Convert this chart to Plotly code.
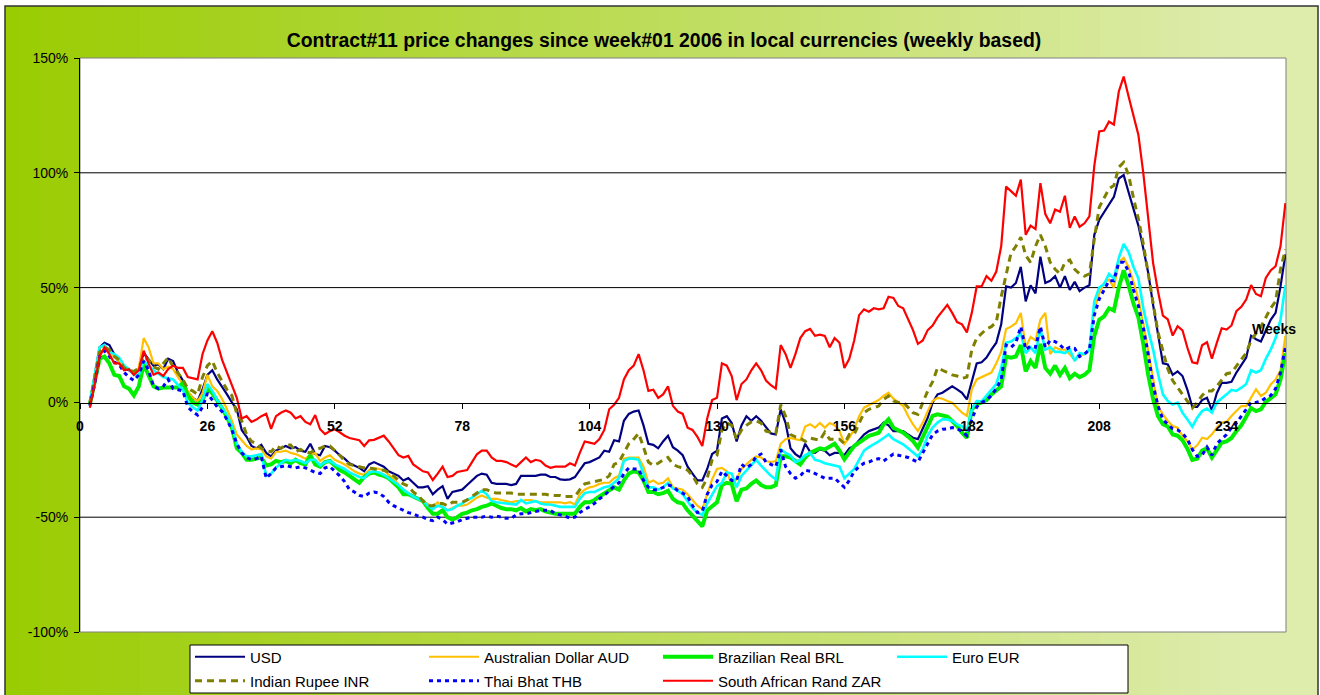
import plotly.graph_objects as go

# ---------------- data (weekly, % change since week#01 2006) ----------------
WEEKS = list(range(2, 247))
X_TICKS = [0, 26, 52, 78, 104, 130, 156, 182, 208, 234]
Y_TICKS = [-100, -50, 0, 50, 100, 150]
Y_TICK_TEXT = ["-100%", "-50%", "0%", "50%", "100%", "150%"]
GRID_LEVELS = [100, 50, -50]

USD = [-0.5, 12, 24, 26, 25, 21, 17, 15, 14, 12.5, 14.5, 21.5, 19, 16, 16.5, 14.5, 19, 18, 13, 9.5, 4.5, 2, 0.6, 5.6, 12, 14, 10, 7, 3.5, 0, -3, -12, -15, -19, -20, -18.5, -22, -23.5, -21, -20, -19, -20,
       -19.5, -21, -21.5, -18, -22.5, -23, -19, -19.5, -21, -23, -24.5, -26.5, -27.5, -28.5, -30, -27, -26, -27, -28, -30, -31, -32, -34, -33, -35, -37, -37, -36.5, -40, -38, -36.5, -42, -39, -38.5, -38, -36, -34, -32, -31, -31.5,
       -35, -35.5, -35.5, -35.5, -36, -35.5, -32, -32, -32, -32, -31.5, -31.5, -32.5, -32.5, -33.5, -33.7, -33.5, -32.5, -29.5, -26.5, -26, -25, -24, -21, -21.5, -16.5, -17, -8, -5, -4, -3.5, -10, -18, -18.5, -20, -17, -14.5, -19.5, -21, -23, -28, -31, -34,
       -34, -29, -22.5, -21, -7, -6, -9, -17, -10, -6, -8, -6, -8, -11, -13.5, -14, -3, -9, -20, -22.5, -24, -18, -21.5, -22, -20.5, -21, -23, -22, -22, -23, -20, -19, -16.5, -14, -12.5, -11.7, -11, -8.8, -10, -12.5, -12.5,
       -12.5, -14, -15.4, -16, -11.7, -6.7, -0.1, 3.5, 4.2, 5.7, 7, 5.7, 4.2, 1.3, 8.6, 17, 17.5, 19.5, 23, 26, 34, 50.5, 50, 52, 59, 44, 51, 47.5, 63.5, 52, 53, 55, 50, 55, 49, 52.5, 48.5, 50, 51,
       73, 79.5, 83, 86.5, 89.5, 97.5, 99, 91.5, 84.5, 77, 67, 56.5, 42.5, 29, 17, 16.5, 12, 13.5, 11.5, 5.5, -2, -2, 1, 2, -3.5, 4, 8.5, 8.5, 9, 13, 16, 19.5, 29, 27.5, 26.5, 31.5, 36, 39, 50.5, 64.5]

AUD = [-0.5, 11, 24, 24.5, 22.5, 20, 17.5, 15, 14.5, 13, 15, 28, 24, 17, 17, 14.5, 15.5, 14.5, 11, 8, 5, 2, 0.5, 4, 12, 7, 5, 1.5, -3, -8, -14, -16.5, -19, -20.5, -20, -20.5, -23.5, -24.5, -21.5, -21.5, -21, -22,
       -22.5, -23.5, -24.5, -23, -22, -25.5, -24, -23, -25, -26, -27, -28.5, -30, -31, -31.5, -29.5, -28.5, -29, -29.5, -31.5, -33.5, -35.5, -38, -39.5, -40.5, -41.7, -43, -44, -45.5, -43.5, -45.5, -47, -46, -45, -45, -44.5, -43, -41.5, -40.5, -41.5,
       -42, -42, -42.5, -43, -43.5, -43, -43, -42.5, -42.5, -43, -43.5, -43.5, -43.5, -43.5, -43.5, -44, -43.5, -44.5, -40, -38, -37, -36.5, -35.5, -35, -35, -33, -32, -24.5, -24, -24, -24, -28, -35, -34, -35.5, -35, -33, -37, -37.5, -38, -40, -42.5, -45,
       -46.5, -40, -33.5, -29, -28.5, -30, -36, -33.5, -29, -27, -25, -23.5, -24, -25.5, -26, -25.5, -18, -16, -15.5, -16, -16.5, -10.5, -9.5, -11, -9, -11, -9, -10, -12.5, -18, -15.4, -11.7, -6, -2.3, -1.3, -0.1, 1, 2.8, 4.2, 1.6, 0.1,
       -1.6, -5.9, -9.6, -12.5, -8.8, -3.8, 0.6, 2, 1.6, 0.6, -0.1, -2.3, -4.5, -5.9, 5.7, 10, 11, 12, 13, 17, 22, 32, 33, 34.5, 39, 24, 28.5, 27, 36, 39, 21, 24, 23, 23, 21, 18.5, 20.5, 21, 23,
       40.5, 47.5, 52, 53.5, 50, 61, 63, 59, 52.5, 45, 34.5, 22.5, 12, -1.6, -5.2, -8.1, -10.3, -11, -14.6, -16.8, -20.4, -18.7, -15.4, -16, -13.9, -11, -8.8, -8.4, -5.9, -3.8, -1.6, -1.6, 2, 5.7, 2.8, 4.2, 7.8, 10, 14, 29]

BRL = [-1, 9, 19, 20, 17, 12, 11.5, 7, 6, 3, 7, 16.5, 11.5, 7, 6, 6.5, 6.5, 6.5, 6.5, 8.5, 3, 0, -1, 1, 6, 4, 1, -2.5, -6.5, -11, -20, -22, -25, -25, -24.5, -24, -27.5, -27, -25.5, -26, -25.5, -26.5,
       -25, -26.5, -27, -23, -27, -28, -26, -25.5, -27.5, -29.5, -30.5, -32, -33.5, -35, -32.5, -31, -30.5, -31.5, -32, -33, -35, -37, -40, -40, -41, -42, -43, -46, -48.5, -48.5, -47, -50, -51, -50, -48.5, -48, -47, -46.5, -45.5, -45,
       -44, -45, -46, -46.5, -46.5, -47, -46, -47.5, -46.5, -47, -46.5, -47.5, -48, -48.5, -48.5, -48.5, -48.5, -48.5, -45.5, -43.5, -43.5, -42.5, -41, -39.5, -38.5, -37, -38, -34, -31, -30, -30.5, -34, -39, -39, -40, -39.5, -38.5, -42, -43.5, -44, -47, -49.5, -52,
       -54, -47, -45, -43.5, -36, -35, -35.5, -43, -38, -37.5, -35.5, -34, -36, -37, -37, -36, -23.5, -23.5, -24, -25.5, -27, -24, -22, -21, -20, -20.5, -19, -18, -21, -24.8, -21.9, -19, -17.5, -16, -14.6, -13.9, -13.2, -9.6, -7.4, -11, -12.2,
       -13.2, -14.9, -16.8, -19.7, -15.4, -10.3, -5.9, -5.2, -5.6, -6.2, -8.1, -10.3, -13.2, -15.4, -3, -0.9, 0, 1, 3.5, 5.5, 7, 20, 19.5, 20, 25, 13.5, 18, 15, 25.5, 15, 12.5, 16, 12, 15, 10.5, 12.5, 11, 12, 14,
       29, 36, 37.5, 41, 40, 50, 57.5, 51, 43, 37, 25.5, 12, 1.5, -6, -9.5, -10.5, -14, -14.5, -16.5, -20.2, -25, -24.5, -21, -20, -24, -20.5, -17.5, -17, -15.5, -12.5, -10, -6.3, -2.5, -3.8, -3, 0.2, 1.6, 3.5, 10, 21.5]

EUR = [-0.5, 11, 24, 25, 22, 21, 19.5, 16, 14.5, 12, 12, 18, 16, 14, 12.5, 11, 10.5, 10, 7.5, 5.5, 0, -2, -3.5, 1, 8, 5, 1, -2, -5.5, -10, -18, -21.5, -23.5, -23.5, -23, -22.5, -32, -31, -28.5, -26.5, -25, -25.5,
       -25, -25.5, -26.5, -25, -25, -27.5, -26, -25.5, -27, -28, -29, -30.5, -31.5, -32.5, -33, -30.5, -30, -30.5, -31.5, -33, -34.5, -36, -38, -39.5, -41, -42, -43, -45, -46.5, -45, -45.5, -47, -46.5, -45, -44, -42.5, -41.5, -40, -38.5, -40,
       -43, -43.5, -43.7, -44, -44, -44.5, -42.5, -44, -43.5, -43, -44, -44.5, -44.5, -45, -45.5, -45.5, -45.5, -45.5, -42, -39.5, -39, -39, -38, -37, -36.5, -35, -33, -25.5, -24.5, -24.5, -25, -31, -37, -37, -38, -37, -35, -37.5, -38.5, -40, -43, -46, -48,
       -49, -44, -40, -36.5, -35, -30.5, -31, -37, -32, -29.5, -27, -25, -27.5, -30, -32, -33.5, -20.5, -22, -23, -26, -25, -23, -22, -25, -25.5, -26.5, -27, -27.5, -28, -33, -31, -29, -25, -21, -19.5, -18.3, -17, -15.5, -14, -16, -17,
       -18.3, -20, -22, -23.6, -20.4, -14.6, -11, -8.8, -7.4, -7.4, -8.1, -9.6, -10.3, -12.5, -3, 0.6, 0.5, 3, 5.5, 8, 15, 26, 26.5, 28, 30, 21.5, 24, 21.5, 32, 23, 24, 22, 22, 21.5, 23, 18, 21.5, 21, 23,
       44, 50, 51.5, 56, 54, 63, 69, 65.5, 59, 54, 41, 31.5, 23, 12.5, 3.5, 0.6, -0.9, -0.1, -4.5, -7.4, -10.6, -6.7, -3.8, -2.7, -4.5, 0, 1.6, 3.5, 5.4, 5, 6.4, 8, 14, 13, 14, 19, 23, 28, 36, 51]

INR = [-0.5, 11, 22, 24, 23, 20, 18.5, 15, 14, 13.5, 15, 20, 18.5, 15.5, 14.5, 17, 19.5, 15.5, 13, 10, 6, 5, 3.5, 11, 16, 18, 13, 9, 5.5, 3, -5, -8, -14, -17, -18, -20, -21, -21.5, -19, -20, -18.5, -18.5,
       -21.5, -20.5, -21.5, -22, -20.5, -20, -19, -19, -21, -23, -25.5, -27, -27.5, -28, -28.5, -28.5, -29, -29.5, -29.5, -30.5, -32, -34, -35.5, -36.5, -39, -40.5, -43, -45, -45, -44, -44, -45, -43.5, -43.5, -43.5, -42.5, -41, -39.5, -38, -38,
       -39, -39.5, -39.5, -39.5, -39.5, -40, -40, -40, -40, -40, -40, -40, -40.5, -40.5, -40.5, -41, -41, -41, -38, -35.5, -35, -34.5, -34, -33.5, -32, -27, -26, -22, -18, -16, -13.5, -19.5, -26, -27.5, -26.5, -25, -24, -27, -28, -28.5, -29.5, -32, -35.5,
       -37, -33, -25, -23, -12, -9, -10, -16, -12, -10, -8.5, -8, -9, -12.5, -13, -13.5, -1, -6, -14, -15, -15.5, -17, -15.5, -16, -16.5, -13, -16, -16, -16, -18, -14, -13.9, -8.8, -4.5, -3, -2.3, -1.6, 1.3, 2.8, 0.6, 0,
       0.2, -2.3, -4.5, -5.2, -0.1, 5, 9, 15, 14, 13, 12, 11.5, 10.5, 11, 23, 28, 30, 32, 33, 35, 46, 56, 65, 68, 72, 64, 61, 68, 73, 68, 61, 58, 56, 61, 62, 58, 56, 55, 56,
       71, 85, 89, 93, 94.5, 102.5, 104.5, 99, 89, 80, 69, 56, 43, 30.5, 22.5, 14.5, 9.5, 6.5, 3.5, 0, -2.5, 0, 3, 5, 5, 7, 9.5, 12.5, 13, 16, 19, 21.5, 27, 30, 33, 37, 41, 44, 58, 66.5]

THB = [-1.5, 8, 20, 22.5, 20, 17.5, 16.5, 13, 11, 9.5, 12, 18, 14, 7, 6, 7, 10, 6, 5.5, 5, -2, -4, -5.5, -2, 4, 1, -2, -4, -7.5, -12, -18, -22, -24, -25, -24.5, -23.5, -33, -31, -28.5, -28, -27.5, -28,
       -28.5, -28, -28.5, -29.5, -30.5, -31, -28.5, -28, -30, -32, -34.5, -38, -39, -40.5, -41, -39.5, -39, -39.5, -41, -43.5, -45, -46, -47, -48, -48.5, -49.5, -50, -51, -51.5, -50, -51, -53, -52.5, -52, -51, -50.5, -50, -50, -50, -49.5,
       -50, -49.5, -50, -50.5, -50.5, -49, -48.5, -48.5, -48, -47.5, -47, -47, -47, -48.5, -49, -49.5, -50.5, -50, -48, -46.5, -45.5, -44, -42, -40.5, -38.5, -36.5, -35, -31, -28.5, -29, -29, -34, -37, -38, -38, -37, -36, -36.5, -38.5, -39.5, -41, -45, -48,
       -47.5, -40, -36, -34.5, -30, -32, -34, -34, -27, -28.5, -27, -23.5, -22.5, -26, -27, -28, -20.5, -28, -31, -33, -32, -29.5, -30, -31, -32, -33, -33, -33, -35, -37, -34, -30, -28, -26.5, -26, -25, -24.5, -25.5, -24, -22.5, -23,
       -23.5, -24, -25, -26, -22, -18, -14, -12.5, -11.7, -11.5, -11, -11.5, -12.5, -14.5, -7.5, -2, 0, 1, 3, 6, 10, 25, 24, 26, 33, 23, 24.5, 24, 33, 24, 27, 26.5, 25, 23, 24, 23.5, 20, 21, 23,
       38, 45, 49, 53, 53, 61, 61, 57, 49, 42, 32.5, 21, 7.5, -1.5, -7.5, -9.5, -11.5, -12, -13.5, -16, -20.5, -23.5, -23, -19.5, -23, -18, -16, -14, -11, -9, -6, -3, 0, 0, 0.5, 2, 3, 6, 13, 24]

ZAR = [-2.3, 8, 20, 24, 21, 17, 17, 14, 14.5, 12, 14, 22.5, 17, 12, 13, 11.5, 14.5, 16, 15, 15, 11, 10.5, 10, 21, 27, 31, 26, 18.5, 13, 7, 2, -7, -6, -8.5, -7.5, -6, -5, -11.5, -6, -4.5, -3.5, -4.5,
       -7, -6, -8.5, -9.5, -5.5, -11.7, -13.8, -12.5, -11.7, -13, -14.5, -15.5, -16, -16.5, -19, -16.5, -16.3, -15.5, -14.5, -17, -20, -23, -24, -23.3, -27, -28.5, -30, -30.5, -33.8, -31, -28, -32.5, -32, -30.3, -30, -29.5, -26, -22.6, -21, -21,
       -24, -25.5, -25.5, -26, -27, -28, -26, -24, -26, -25, -25.5, -27.5, -28.5, -28, -28, -28, -26.5, -27.5, -22, -17, -17.5, -18, -16, -12, -3, -1, 2, 10, 14, 16, 21, 14, 5, 5.5, 2, 3.5, 7, -1.5, -4, -5, -11, -12, -15,
       -19, -7, 1, 2, 17, 16, 11.5, 1, 8, 10, 14, 17, 14, 9.5, 7.5, 6, 25, 21, 15, 21, 28, 31, 32, 29, 29.5, 29, 24, 28, 26, 15, 19, 27, 38, 40.5, 39.5, 41, 40.5, 41, 46, 45.5, 42,
       41, 36, 31.5, 25.5, 27, 31.5, 33.5, 37, 40, 42.5, 39, 35, 34, 30.5, 39, 50.5, 50.5, 55, 53, 57, 68, 94, 92, 90, 97, 73, 77, 75.5, 95.5, 82, 78, 84, 83, 90, 76, 81, 76.5, 78, 81,
       103, 118, 118.4, 122.3, 121, 135.4, 141.9, 133.2, 124.8, 116.5, 99.9, 79.5, 60.7, 48.4, 37.8, 36.1, 29.1, 33.2, 31.4, 23.8, 17.5, 17, 24.9, 26.2, 19, 25.9, 32.3, 31.7, 33.5, 39.7, 41.6, 44.8, 51.1, 47.2, 46.2, 54.2, 57.5, 59.3, 68, 86.8]

# name, values, colour, width, dash, legend column, legend row
SERIES = [
    ("USD", USD, "#000080", 2.2, "solid", 0, 0),
    ("Australian Dollar AUD", AUD, "#FFC000", 2.2, "solid", 1, 0),
    ("Brazilian Real BRL", BRL, "#00EE00", 4, "solid", 2, 0),
    ("Euro EUR", EUR, "#00FFFF", 2.6, "solid", 3, 0),
    ("Indian Rupee INR", INR, "#808000", 3, "7px,5px", 0, 1),
    ("Thai Bhat THB", THB, "#0000FF", 3, "4px,4px", 1, 1),
    ("South African Rand ZAR", ZAR, "#FF0000", 2.2, "solid", 2, 1),
]
for name, vals, *_ in SERIES:
    assert len(vals) == len(WEEKS), (name, len(vals))

# ---------------- layout geometry (pixels) ----------------
W, H = 1320, 695
PL, PR, PT, PB = 80, 1286, 58, 632
PW, PH = PR - PL, PB - PT
LEG_COL_X = [190, 424, 658, 892]
LEG_ROW_Y = [657, 681]


def px_x(px):
    return (px - PL) / PW


def px_y(py):
    return (PB - py) / PH


FONT = "Liberation Sans, Arial, sans-serif"

fig = go.Figure()
legends = {}
for i, (name, vals, color, width, dash, col, row) in enumerate(SERIES):
    lid = "legend" if i == 0 else "legend%d" % (i + 1)
    fig.add_trace(go.Scatter(
        x=WEEKS, y=vals, name=name, mode="lines",
        line=dict(color=color, width=width, dash=dash),
        legend=lid, hoverinfo="skip",
    ))
    legends[lid] = dict(
        xref="container", yref="container",
        x=LEG_COL_X[col] / W, y=1 - LEG_ROW_Y[row] / H,
        xanchor="left", yanchor="middle", orientation="v",
        bgcolor="rgba(0,0,0,0)", borderwidth=0, itemwidth=50,
        font=dict(family=FONT, size=15, color="black"),
    )

shapes = []
# gradient background
LEFT_RGB = (153, 204, 0)
RIGHT_RGB = (222, 236, 172)
N = 66
for i in range(N):
    a, b = i * W / N, (i + 1) * W / N
    t = min(max(((a + b) / 2 - 5) / 1235, 0), 1)
    c = tuple(round(LEFT_RGB[k] + (RIGHT_RGB[k] - LEFT_RGB[k]) * t) for k in range(3))
    shapes.append(dict(type="rect", xref="paper", yref="paper", layer="below",
                       x0=px_x(max(a, 5)), x1=px_x(min(b + 0.6, 1318)), y0=px_y(H + 5), y1=px_y(6),
                       line=dict(width=0), fillcolor="rgb(%d,%d,%d)" % c))
# outer border
shapes.append(dict(type="rect", xref="paper", yref="paper", layer="below",
                   x0=px_x(5), x1=px_x(1318), y0=px_y(H + 5), y1=px_y(6),
                   line=dict(color="#333333", width=1.5), fillcolor="rgba(0,0,0,0)"))
# plot area
shapes.append(dict(type="rect", xref="paper", yref="paper", layer="below",
                   x0=0, x1=1, y0=0, y1=1, line=dict(color="#808080", width=1), fillcolor="white"))
# gridlines
for g in GRID_LEVELS:
    shapes.append(dict(type="line", xref="paper", yref="y", layer="below",
                       x0=0, x1=1, y0=g, y1=g, line=dict(color="#000000", width=1)))
# legend box
shapes.append(dict(type="rect", xref="paper", yref="paper", layer="below",
                   x0=px_x(190), x1=px_x(1128), y0=px_y(693), y1=px_y(645),
                   line=dict(color="#000000", width=1), fillcolor="white"))

fig.update_layout(
    width=W, height=H,
    margin=dict(l=PL, r=W - PR, t=PT, b=H - PB, autoexpand=False),
    paper_bgcolor="white", plot_bgcolor="rgba(0,0,0,0)",
    font=dict(family=FONT, size=14, color="black"),
    title=dict(text="<b>Contract#11 price changes since week#01 2006 in local currencies (weekly based)</b>",
               x=664 / W, xref="container", xanchor="center", y=1 - 40 / H, yref="container", yanchor="middle",
               font=dict(family=FONT, size=19.4, color="black")),
    xaxis=dict(range=[0, PW / 4.9], anchor="free", position=px_y(403),
               showline=True, linecolor="black", linewidth=1,
               ticks="outside", ticklen=5, tickcolor="black", tickvals=X_TICKS, ticklabelstandoff=5,
               tickfont=dict(family=FONT, size=14, color="black", weight="bold"),
               showgrid=False, zeroline=False),
    yaxis=dict(range=[-100, 150], tickvals=Y_TICKS, ticktext=Y_TICK_TEXT,
               showline=True, linecolor="black", linewidth=1,
               ticks="outside", ticklen=5, tickcolor="black", ticklabelstandoff=3,
               tickfont=dict(family=FONT, size=14, color="black"),
               showgrid=False, zeroline=False),
    shapes=shapes,
    annotations=[dict(text="<b>Weeks</b>", xref="paper", yref="paper", x=px_x(1274), y=px_y(329),
                      showarrow=False, font=dict(family=FONT, size=14, color="black"),
                      xanchor="center", yanchor="middle")],
    showlegend=True,
    **legends,
)

fig.write_html("out.html", config={"displayModeBar": False, "staticPlot": False},
               post_script="document.body.style.margin='0';document.body.style.overflow='hidden';")
